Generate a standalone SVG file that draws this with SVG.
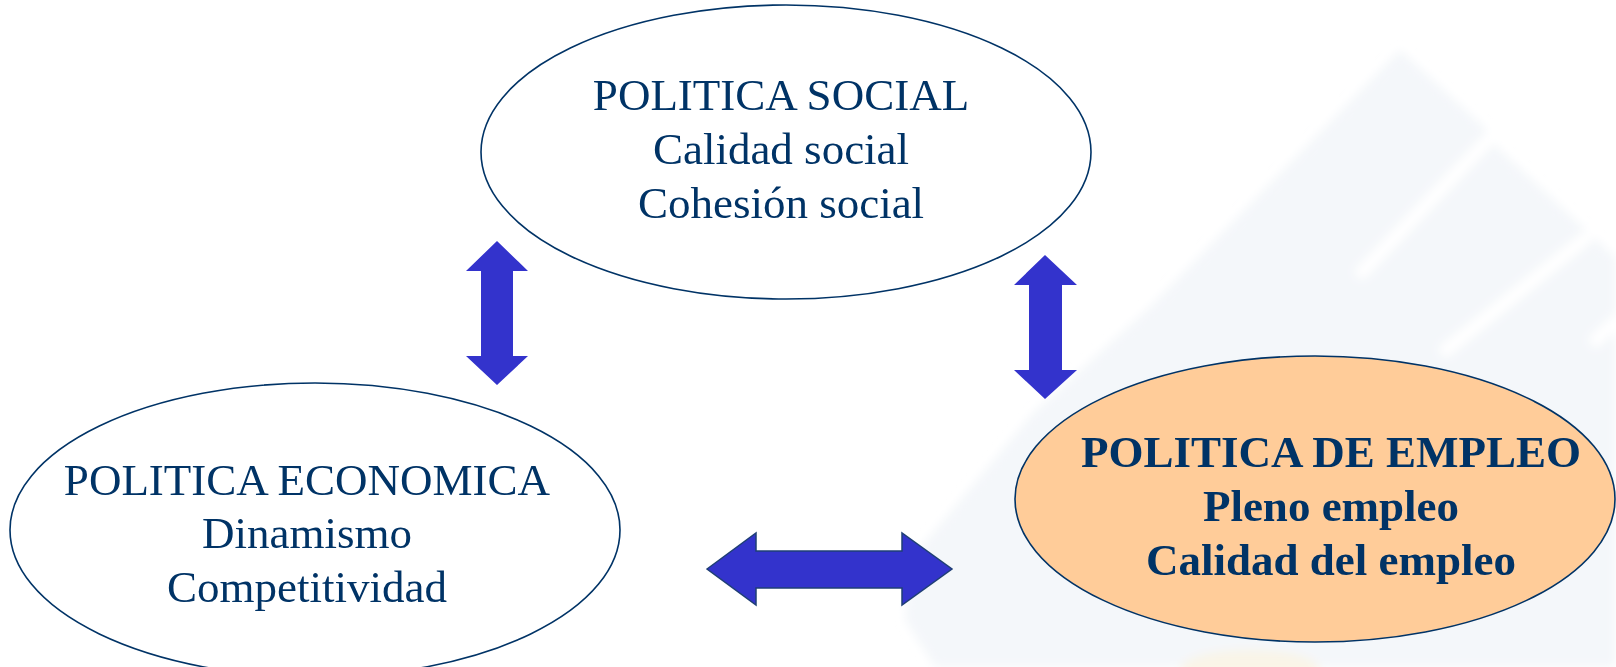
<svg xmlns="http://www.w3.org/2000/svg" width="1616" height="667" viewBox="0 0 1616 667">
<defs>
<filter id="soft" x="-10%" y="-10%" width="120%" height="120%"><feGaussianBlur stdDeviation="5"/></filter>
</defs>
<style>
.t{font-family:"Liberation Serif","Times New Roman",serif;font-size:45px;fill:#003366;text-anchor:middle}
.b{font-weight:bold}
.e{stroke:#003366;stroke-width:1.6}
.ar{fill:#3333cc}
.gap{stroke:#ffffff;stroke-width:14;stroke-linecap:round;fill:none}
</style>
<rect width="1616" height="667" fill="#ffffff"/>
<g id="watermark" filter="url(#soft)">
<polygon fill="#f4f7fa" points="1400,50 1484,127 1497,147 1616,258 1616,667 935,667 905,620 910,560 1033,413 1150,307"/>
<line class="gap" x1="1490" y1="138" x2="1362" y2="272"/>
<line class="gap" x1="1586" y1="238" x2="1446" y2="350"/>
<line class="gap" x1="1620" y1="318" x2="1596" y2="340"/>
<line class="gap" x1="1127" y1="318" x2="1108" y2="300"/>
<ellipse cx="1250" cy="670" rx="70" ry="20" fill="#fbf2da" opacity="0.6"/>
</g>
<g id="connectors">
<polygon class="ar" points="497,241 528,271 513,271 513,356 528,356 497,385 466,356 481,356 481,271 466,271"/>
<polygon class="ar" points="1045,255 1077,285 1062,285 1062,370 1077,370 1045,399 1014,370 1029,370 1029,285 1014,285"/>
<polygon class="ar" points="707,569 756,533 756,551 902,551 902,533 952,569 902,605 902,588 756,588 756,605" stroke="#1f3f75" stroke-width="1.5"/>
</g>
<g id="social">
<ellipse class="e" cx="786" cy="152" rx="305" ry="147" fill="#ffffff"/>
<text class="t" x="781" y="110">POLITICA SOCIAL</text>
<text class="t" x="781" y="164">Calidad social</text>
<text class="t" x="781" y="218">Cohesión social</text>
</g>
<g id="economica">
<ellipse class="e" cx="315" cy="530" rx="305" ry="147" fill="#ffffff"/>
<text class="t" x="307" y="495">POLITICA ECONOMICA</text>
<text class="t" x="307" y="548">Dinamismo</text>
<text class="t" x="307" y="602">Competitividad</text>
</g>
<g id="empleo">
<ellipse class="e" cx="1315" cy="499" rx="300" ry="143" fill="#ffcc99"/>
<text class="t b" x="1331" y="467">POLITICA DE EMPLEO</text>
<text class="t b" x="1331" y="521">Pleno empleo</text>
<text class="t b" x="1331" y="575">Calidad del empleo</text>
</g>
</svg>
